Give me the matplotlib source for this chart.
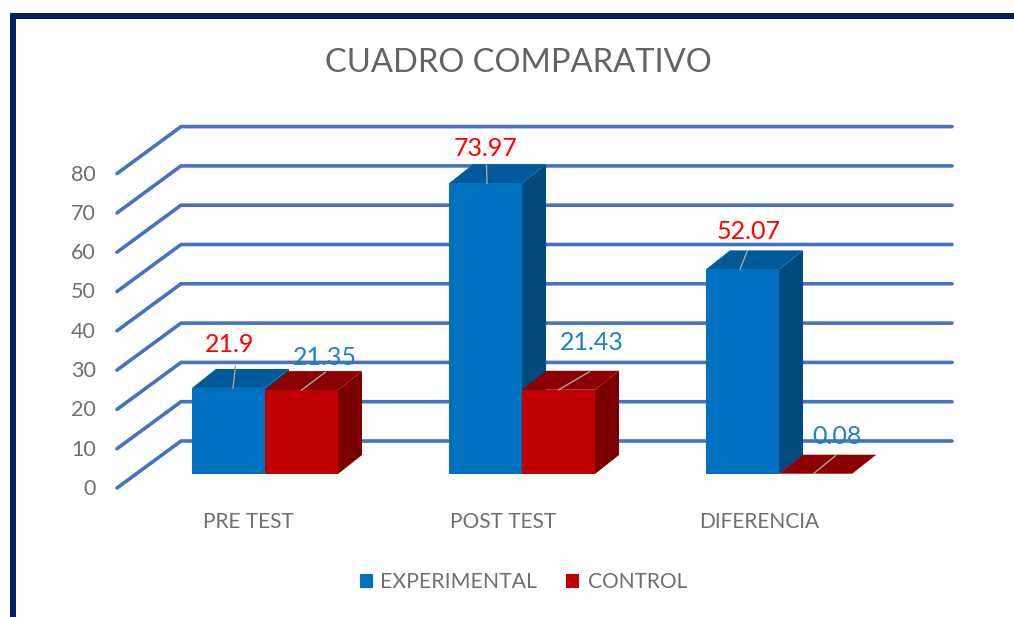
import numpy as np
import matplotlib
matplotlib.use("Agg")
import matplotlib.pyplot as plt
from matplotlib.patches import Polygon, Rectangle

categories = ["PRE TEST", "POST TEST", "DIFERENCIA"]
experimental = [21.9, 73.97, 52.07]
control = [21.35, 21.43, 0.08]
yticks = [0, 10, 20, 30, 40, 50, 60, 70, 80]

WIDTH, HEIGHT = 1014, 617
PX_X = 257.0    # pixels per category
PX_Y = 3.93     # pixels per value unit
X0, Y0 = 265.0, 474.0  # pixel of first category centre, value 0 at the bar front

BAR_W = 73.0 / PX_X
DX, DY = 24.0 / PX_X, 19.0 / PX_Y   # bar depth

# Grid floor
BACK_DY = 33.0 / PX_Y
FRONT_DY = -14.0 / PX_Y
BACK_X = (181.0 - X0) / PX_X
FRONT_X = (117.0 - X0) / PX_X
RIGHT_X = (952.0 - X0) / PX_X

# Label placement, in pixels from the middle of each bar's top edge
exp_leader_start = [4.5, 1.5, -2.5]
exp_leader_end = [(2.5, 22), (-0.5, 18), (7.5, 19)]
exp_label_pos = [(1.5, 43), (0, 34.5), (6.5, 38)]
ctrl_leader_start = [0, 0, -2]
ctrl_leader_end = [(24, 18), (31, 18), (22, 18)]
ctrl_label_pos = [(23, 33), (33.5, 47), (21, 37)]
cat_label_shift = [-17, -19, -20]

plt.rcParams["font.family"] = ["Lato", "DejaVu Sans"]

fig = plt.figure(figsize=(WIDTH / 100, HEIGHT / 100), dpi=100)
ax = fig.add_axes([0, 0, 1, 1])
ax.set_xlim(-X0 / PX_X, (WIDTH - X0) / PX_X)
ax.set_ylim((Y0 - HEIGHT) / PX_Y, Y0 / PX_Y)
ax.axis("off")

GREY = "#6f6f6f"
GRID = "#4472c4"

# Frame of the screenshot
ax.add_patch(Rectangle((10 / WIDTH, 0), 6 / WIDTH, 1 - 13 / HEIGHT, transform=ax.transAxes,
                       color="#002060", lw=0, zorder=5))
ax.add_patch(Rectangle((10 / WIDTH, 1 - 19 / HEIGHT), 1, 6 / HEIGHT, transform=ax.transAxes,
                       color="#002060", lw=0, zorder=5))

# Gridlines
for t in yticks:
    ax.plot([FRONT_X, BACK_X, RIGHT_X],
            [t + FRONT_DY, t + BACK_DY, t + BACK_DY],
            color=GRID, lw=2.6, solid_capstyle="round", solid_joinstyle="miter", zorder=1)
    ax.text((96 - X0) / PX_X, t + FRONT_DY - 1.0 / PX_Y, str(t), ha="right", va="center",
            fontsize=15.5, color=GREY)


def draw_bar(x, value, front, top, side, z):
    ax.add_patch(Polygon([(x + BAR_W, 0), (x + BAR_W + DX, DY), (x + BAR_W + DX, value + DY),
                          (x + BAR_W, value)], closed=True, fc=side, ec="none", zorder=z))
    ax.add_patch(Polygon([(x, value), (x + DX, value + DY), (x + BAR_W + DX, value + DY),
                          (x + BAR_W, value)], closed=True, fc=top, ec="none", zorder=z))
    ax.add_patch(Rectangle((x, 0), BAR_W, value, fc=front, ec="none", zorder=z))


# control is drawn over experimental in each group
for i in range(len(categories)):
    draw_bar(i - BAR_W, experimental[i], "#0070c0", "#005a9a", "#004a80", 2 + i * 2)
    draw_bar(i, control[i], "#c00000", "#8b0000", "#7a0000", 3 + i * 2)


def draw_label(xc, v, text, start, end, pos, color):
    ax.plot([xc + start / PX_X, xc + (start + end[0]) / PX_X], [v, v + end[1] / PX_Y],
            color="#a6a6a6", lw=1.0, zorder=20)
    ax.text(xc + pos[0] / PX_X, v + pos[1] / PX_Y, text, ha="center", va="center",
            fontsize=18, color=color, zorder=21)


for i, v in enumerate(experimental):
    draw_label(i - BAR_W / 2, v, f"{v:g}", exp_leader_start[i], exp_leader_end[i],
               exp_label_pos[i], "#ff0000")
for i, v in enumerate(control):
    draw_label(i + BAR_W / 2, v, f"{v:g}", ctrl_leader_start[i], ctrl_leader_end[i],
               ctrl_label_pos[i], "#1f80c8")

# Category labels
for i, c in enumerate(categories):
    ax.text(i + cat_label_shift[i] / PX_X, -47.5 / PX_Y, c, ha="center", va="center",
            fontsize=15, color=GREY)

# Title
ax.text((518.5 - X0) / PX_X, (Y0 - 63.5) / PX_Y, "CUADRO COMPARATIVO", ha="center", va="center",
        fontsize=23.5, color="#636363")

# Legend
ax.add_patch(Rectangle(((360 - X0) / PX_X, (Y0 - 588) / PX_Y), 13 / PX_X, 14 / PX_Y,
                       fc="#0070c0", ec="none"))
ax.text((380 - X0) / PX_X, (Y0 - 582) / PX_Y, "EXPERIMENTAL", ha="left", va="center",
        fontsize=15.3, color=GREY)
ax.add_patch(Rectangle(((566 - X0) / PX_X, (Y0 - 588) / PX_Y), 13 / PX_X, 14 / PX_Y,
                       fc="#c00000", ec="none"))
ax.text((588 - X0) / PX_X, (Y0 - 582) / PX_Y, "CONTROL", ha="left", va="center",
        fontsize=15, color=GREY)

fig.savefig("out.png", dpi=100)
